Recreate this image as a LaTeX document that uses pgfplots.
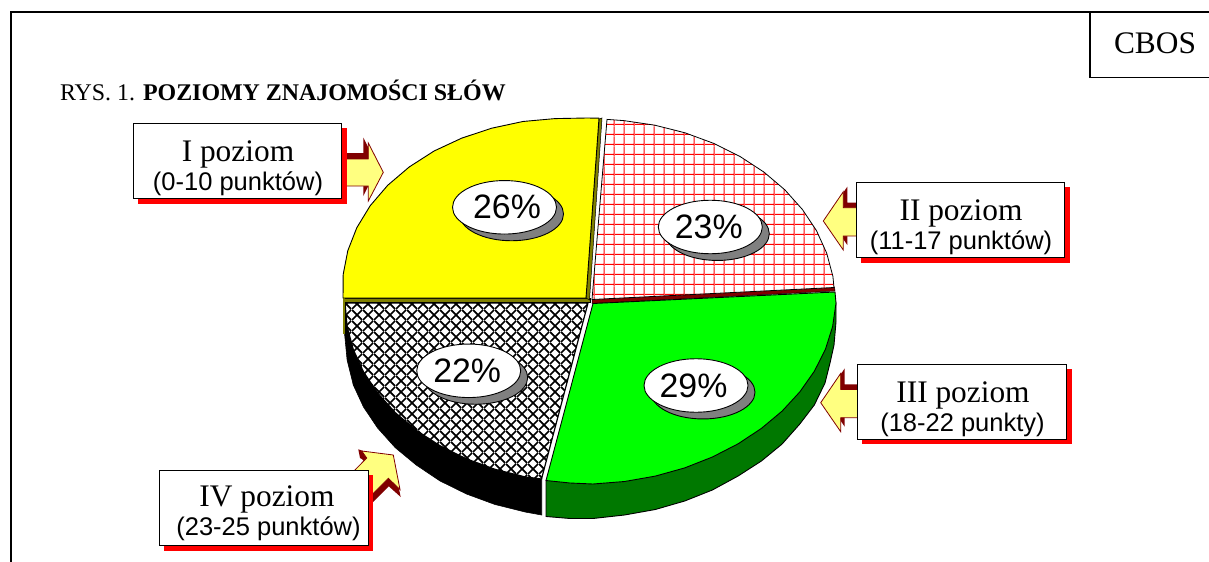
\documentclass[border=0pt]{standalone}
\usepackage{fontspec}
\setmainfont{Liberation Serif}
\newfontfamily\arialf{Liberation Sans}
\usepackage{pgfplots}
\pgfplotsset{compat=1.18}
\usetikzlibrary{patterns,shapes.geometric}
\definecolor{darkred}{RGB}{128,0,0}
\definecolor{olivec}{RGB}{128,128,0}
\definecolor{lightyel}{RGB}{255,255,128}
\definecolor{darkgr}{RGB}{0,120,0}
\definecolor{lightgr}{RGB}{0,255,0}
\definecolor{greyc}{RGB}{128,128,128}
\definecolor{pureyel}{RGB}{255,255,0}
\definecolor{purered}{RGB}{255,0,0}
\pgfdeclarepatternformonly{redgrid}{\pgfqpoint{0bp}{0bp}}{\pgfqpoint{10.27bp}{10.27bp}}{\pgfqpoint{10.27bp}{10.27bp}}{%
  \pgfsetlinewidth{1.1bp}
  \pgfpathmoveto{\pgfqpoint{9.8bp}{0bp}}\pgfpathlineto{\pgfqpoint{9.8bp}{10.27bp}}
  \pgfpathmoveto{\pgfqpoint{0bp}{1.7bp}}\pgfpathlineto{\pgfqpoint{10.27bp}{1.7bp}}
  \pgfusepath{stroke}}
\pgfdeclarepatternformonly{blackcross}{\pgfqpoint{0bp}{0bp}}{\pgfqpoint{11bp}{11bp}}{\pgfqpoint{11bp}{11bp}}{%
  \pgfsetlinewidth{1.9bp}
  \pgfpathmoveto{\pgfqpoint{0bp}{0bp}}\pgfpathlineto{\pgfqpoint{11bp}{11bp}}
  \pgfpathmoveto{\pgfqpoint{0bp}{11bp}}\pgfpathlineto{\pgfqpoint{11bp}{0bp}}
  \pgfusepath{stroke}}
\newcommand{\fs}[1]{\fontsize{#1}{#1}\selectfont}
\tikzset{
  lab/.style={anchor=base,inner sep=0pt,outer sep=0pt},
  oval/.style={ellipse,inner sep=0pt,minimum width=104bp,minimum height=53.5bp,line width=0.9bp},
}
\begin{document}
\begin{tikzpicture}
\useasboundingbox (0,0) rectangle (1209bp,562bp);
\begin{axis}[scale only axis,width=1209bp,height=562bp,xmin=0,xmax=1209,ymin=0,ymax=562,
  y dir=reverse,hide axis,clip=true]
% frame
\addplot[black,line width=2bp] coordinates {(11,562) (11,12) (1209,12)};
\addplot[black,line width=1.6bp] coordinates {(1090,12) (1090,77.5) (1209,77.5)};

% arrow I
\addplot[fill=darkred,draw=none] coordinates {(340,153) (363.3,153) (363.3,137.5) (378,167) (363.3,196) (363.3,181) (340,181)} --cycle;
\addplot[fill=lightyel,draw=darkred,line width=0.8bp] coordinates {(340,159) (368.3,159) (368.3,143) (383.3,172.3) (368.3,201) (368.3,186) (340,186)} --cycle;
% arrow II
\addplot[fill=darkred,draw=none] coordinates {(860,202.7) (847.3,202.7) (847.3,186.7) (827.3,216) (847.3,245) (847.3,231) (860,231)} --cycle;
\addplot[fill=lightyel,draw=darkred,line width=0.8bp] coordinates {(860,207.7) (843.3,207.7) (843.3,191.7) (823.3,221) (843.3,250) (843.3,236) (860,236)} --cycle;
% arrow III
\addplot[fill=darkred,draw=none] coordinates {(860,384.4) (844.7,384.4) (844.7,368.4) (824.7,397.7) (844.7,426.7) (844.7,412.7) (860,412.7)} --cycle;
\addplot[fill=lightyel,draw=darkred,line width=0.8bp] coordinates {(860,389.4) (840.7,389.4) (840.7,373.4) (820.7,402.7) (840.7,431.7) (840.7,417.7) (860,417.7)} --cycle;
% arrow IV
\addplot[fill=darkred,draw=none] coordinates {(358.3,449.3) (366,452) (368,462) (360,458)} --cycle;
\addplot[fill=darkred,draw=none] coordinates {(362.2,459) (393.5,463) (400.7,497) (388.8,486.3) (372,503) (352.5,481) (367.2,466)} --cycle;
\addplot[fill=lightyel,draw=darkred,line width=0.8bp] coordinates {(361.7,451) (393.3,455) (400,489.5) (388.3,478.3) (371.7,495) (352,473) (366.7,458)} --cycle;

% callout boxes: red shadows and white faces
\addplot[fill=purered,draw=none] coordinates {(137.7,128.3) (346.7,128.3) (346.7,204) (137.7,204)} --cycle;
\addplot[fill=white,draw=black,line width=1bp] coordinates {(133.3,123.3) (341.7,123.3) (341.7,198.3) (133.3,198.3)} --cycle;
\addplot[fill=purered,draw=none] coordinates {(860.7,187.3) (1070,187.3) (1070,263) (860.7,263)} --cycle;
\addplot[fill=white,draw=black,line width=1bp] coordinates {(856.3,182.3) (1064.7,182.3) (1064.7,257.3) (856.3,257.3)} --cycle;
\addplot[fill=purered,draw=none] coordinates {(862,369) (1071.7,369) (1071.7,444.3) (862,444.3)} --cycle;
\addplot[fill=white,draw=black,line width=1bp] coordinates {(857.7,364) (1066.3,364) (1066.3,439) (857.7,439)} --cycle;
\addplot[fill=purered,draw=none] coordinates {(164,475) (373.3,475) (373.3,550.7) (164,550.7)} --cycle;
\addplot[fill=white,draw=black,line width=1bp] coordinates {(159.3,470) (368.7,470) (368.7,545) (159.3,545)} --cycle;

% black side of IV
\addplot[fill=black,draw=black,line width=0.6bp] coordinates {(344.5,300) (344.5,333) (347.1,360) (353.3,385) (363.5,407) (377.6,428) (395.2,447.6) (416.2,465) (440.1,481) (466.5,494) (495,504.5) (525.1,512) (541.7,515) (541.7,478)} --cycle;
% IV top (22)
\addplot[fill=white,draw=none] coordinates {(588,303) (345,303) (347.1,326.5) (353.3,349.6) (363.5,371.9) (377.6,393) (395.2,412.6) (416.2,430.3) (440.1,445.8) (466.5,458.9) (495,469.3) (525.1,476.9) (541.5,479)} --cycle;
\addplot[pattern=blackcross,pattern color=black,draw=black,line width=1.2bp] coordinates {(588,303) (345,303) (347.1,326.5) (353.3,349.6) (363.5,371.9) (377.6,393) (395.2,412.6) (416.2,430.3) (440.1,445.8) (466.5,458.9) (495,469.3) (525.1,476.9) (541.5,479)} --cycle;

% olive cut faces of I
\addplot[fill=olivec,draw=black,line width=0.5bp] coordinates {(343,298) (590,298) (590,302.5) (343,302.5)} --cycle;
\addplot[fill=olivec,draw=none] coordinates {(342.7,298) (345,298) (345,334) (342.7,334)} --cycle;
\addplot[fill=olivec,draw=black,line width=0.5bp] coordinates {(586,298) (599,119) (602,118) (589.5,300)} --cycle;
% I top (26)
\addplot[fill=pureyel,draw=black,line width=0.9bp] coordinates {(586,298) (343,298) (343.2,274.3) (347.8,250.7) (356.8,227.7) (370.2,205.7) (387.8,185.2) (409.3,166.9) (434.1,151) (461.8,138.1) (491.7,128.2) (522.9,121.5) (554.9,118.6) (587,118) (599,118.2)} --cycle;

% II (23)
\addplot[fill=darkred,draw=black,line width=0.5bp] coordinates {(592,299) (834.5,287) (835,291) (592,303.5)} --cycle;
\addplot[fill=white,draw=none] coordinates {(592,299.5) (607,119.4) (623.7,120.6) (654.9,125.2) (685,132.8) (713.5,143.3) (739.9,156.4) (763.8,172) (784.8,189.8) (802.4,209.5) (816.5,230.7) (826.7,253.2) (832.9,276.4) (834,287.5)} --cycle;
\addplot[pattern=redgrid,pattern color=purered,draw=black,line width=0.8bp] coordinates {(592,299.5) (607,119.4) (623.7,120.6) (654.9,125.2) (685,132.8) (713.5,143.3) (739.9,156.4) (763.8,172) (784.8,189.8) (802.4,209.5) (816.5,230.7) (826.7,253.2) (832.9,276.4) (834,287.5)} --cycle;

% III side and top (29)
\addplot[fill=darkgr,draw=black,line width=0.9bp] coordinates {(836,303) (836,322) (834,345) (830,363) (825,383) (814.3,405) (799.8,424) (782.1,444) (761.4,461) (738.1,476) (712.4,490) (684.7,501) (655.3,509.5) (624.5,515) (593,518.5) (570,518.5) (546,516.5) (546,481)} --cycle;
\addplot[fill=lightgr,draw=black,line width=0.9bp] coordinates {(593,303.5) (835,292) (836,303) (832.6,326.5) (825.4,349.4) (814.3,371.3) (799.8,391.9) (782.1,411.1) (761.4,428.4) (738.1,443.8) (712.4,457) (684.7,467.9) (655.3,476.1) (624.5,481.5) (593,484) (570,483) (546,480.5)} --cycle;

% ovals
\node[oval,fill=greyc,draw=black] at (axis cs:511.5,214) {};
\node[oval,fill=white,draw=black] at (axis cs:504.5,207.3) {\hspace{5bp}\arialf\fs{34}26\%};
\node[oval,fill=greyc,draw=black] at (axis cs:717.3,233.7) {};
\node[oval,fill=white,draw=black] at (axis cs:710.3,227) {\hspace{-3bp}\arialf\fs{34}23\%};
\node[oval,fill=greyc,draw=black] at (axis cs:703,392.2) {};
\node[oval,fill=white,draw=black] at (axis cs:696,385.5) {\hspace{-5bp}\arialf\fs{34}29\%};
\node[oval,fill=greyc,draw=black] at (axis cs:475.7,377.5) {};
\node[oval,fill=white,draw=black] at (axis cs:468.7,370.8) {\hspace{-3bp}\arialf\fs{34}22\%};

% texts
\node[lab] at (axis cs:1155,54) {\fs{31.5}CBOS};
\node[lab,anchor=base west] at (axis cs:60,100) {\fs{24}RYS. 1. \textbf{POZIOMY ZNAJOMOŚCI SŁÓW}};
\node[lab] at (axis cs:238,161) {\fs{31.5}I poziom};
\node[lab] at (axis cs:238,190) {\arialf\fs{25.6}(0-10 punktów)};
\node[lab] at (axis cs:961,220) {\fs{31.5}II poziom};
\node[lab] at (axis cs:961,249) {\arialf\fs{25.6}(11-17 punktów)};
\node[lab] at (axis cs:963,402) {\fs{31.5}III poziom};
\node[lab] at (axis cs:962.5,431) {\arialf\fs{25.6}(18-22 punkty)};
\node[lab] at (axis cs:267,506) {\fs{31.5}IV poziom};
\node[lab] at (axis cs:268.5,535) {\arialf\fs{25.6}(23-25 punktów)};
\end{axis}
\end{tikzpicture}
\end{document}
